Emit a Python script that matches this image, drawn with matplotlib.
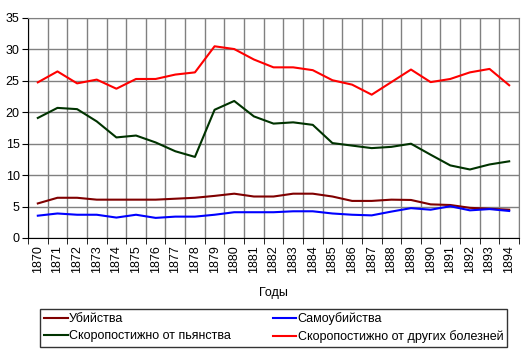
import matplotlib.pyplot as plt
import numpy as np

plt.rcParams['font.family'] = ['Liberation Sans', 'DejaVu Sans']
plt.rcParams['font.size'] = 9

years = list(range(1870, 1895))
murders = [5.5, 6.4, 6.4, 6.1, 6.1, 6.1, 6.1, 6.25, 6.4, 6.7, 7.05, 6.6, 6.6,
           7.05, 7.05, 6.6, 5.9, 5.9, 6.1, 6.05, 5.35, 5.25, 4.8, 4.65, 4.5]
suicides = [3.55, 3.9, 3.7, 3.7, 3.25, 3.7, 3.2, 3.4, 3.4, 3.7, 4.1, 4.1, 4.1,
            4.25, 4.25, 3.9, 3.7, 3.6, 4.2, 4.75, 4.5, 5.05, 4.4, 4.6, 4.3]
drunk = [19.1, 20.7, 20.5, 18.55, 16.0, 16.3, 15.2, 13.8, 12.9, 20.4, 21.8, 19.35, 18.2,
         18.4, 18.0, 15.1, 14.7, 14.3, 14.5, 15.0, 13.25, 11.55, 10.9, 11.7, 12.2]
other = [24.76, 26.5, 24.6, 25.2, 23.75, 25.3, 25.3, 26.0, 26.35, 30.5, 30.06, 28.4, 27.15,
         27.15, 26.7, 25.1, 24.4, 22.8, 24.8, 26.8, 24.8, 25.3, 26.35, 26.9, 24.3]

labels = ['Убийства', 'Самоубийства', 'Скоропостижно от пьянства', 'Скоропостижно от других болезней']
colors = ['#800000', '#0000ff', '#003300', '#ff0000']

fig = plt.figure(figsize=(5.23, 3.5), dpi=100)
ax = fig.add_axes([28 / 523, 112 / 350, 491 / 523, 220 / 350])

x = np.arange(len(years))
lines = []
for series, c, lab in zip([murders, suicides, drunk, other], colors, labels):
    ln, = ax.plot(x, series, color=c, lw=1.5, label=lab)
    lines.append(ln)

ax.set_xlim(-0.5, len(years) - 0.5)
ax.set_ylim(0, 35)
ax.set_yticks(range(0, 36, 5))
ax.set_xticks(x)
ax.set_xticklabels([str(y) for y in years], rotation=90)
ax.set_xticks(np.arange(-0.5, len(years)), minor=True)
ax.tick_params(axis='x', which='major', length=0, pad=5)
ax.tick_params(axis='x', which='minor', length=4, direction='out', color='black')
ax.tick_params(axis='y', length=4, direction='out', pad=2)
ax.grid(True, which='minor', axis='x', color='#808080', lw=1)
ax.grid(True, which='major', axis='y', color='#808080', lw=1)
ax.set_axisbelow(True)
for s in ['top', 'right']:
    ax.spines[s].set_color('#808080')
for s in ['left', 'bottom']:
    ax.spines[s].set_color('black')
ax.set_xlabel('Годы', labelpad=10)

# matplotlib fills legend columns first, reorder to get row-wise layout
leg = fig.legend(handles=[lines[0], lines[2], lines[1], lines[3]], ncol=2,
                 loc='lower left', bbox_to_anchor=(40 / 523, 3 / 350, 467 / 523, 39 / 350),
                 mode='expand', frameon=True, fancybox=False, edgecolor='black',
                 handlelength=1.9, handletextpad=0.1, borderpad=0.3, labelspacing=0.4,
                 borderaxespad=0, columnspacing=1)
leg.get_frame().set_linewidth(1)

fig.savefig('out.png', dpi=100)
